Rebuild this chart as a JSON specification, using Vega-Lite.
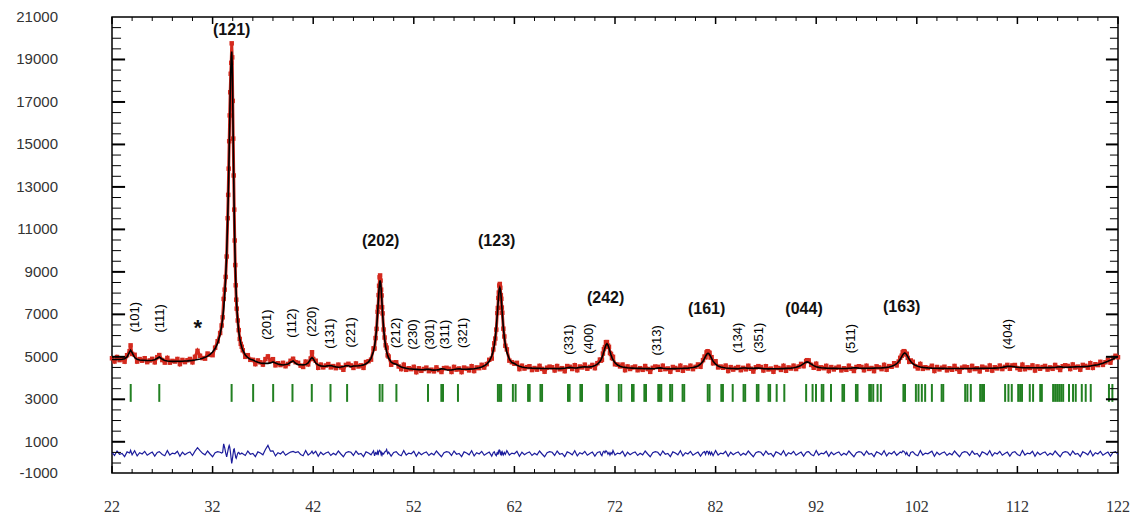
{
"$schema":"https://vega.github.io/schema/vega-lite/v6.json",
"width":1006,"height":456,
"autosize":{"type":"none"},
"padding":{"left":112,"top":17,"right":14,"bottom":47},
"background":"white",
"config":{"view":{"stroke":"#000","strokeWidth":1.5}},
"datasets":{
"profile":[
{"tth":22,"obs":4933,"calc":4873,"diff":505},{"tth":22.25,"obs":4781,"calc":4871,"diff":355},{"tth":22.5,"obs":4991,"calc":4871,"diff":565},{"tth":22.75,"obs":4844,"calc":4874,"diff":415},{"tth":23,"obs":4895,"calc":4885,"diff":455},{"tth":23.25,"obs":4772,"calc":4912,"diff":305},{"tth":23.5,"obs":5076,"calc":4996,"diff":525},{"tth":23.75,"obs":5267,"calc":5237,"diff":475},{"tth":23.85,"obs":5540,"calc":5312,"diff":600},{"tth":24,"obs":5135,"calc":5195,"diff":385},{"tth":24.25,"obs":5096,"calc":4966,"diff":575},{"tth":24.5,"obs":4776,"calc":4886,"diff":335},{"tth":24.75,"obs":4894,"calc":4854,"diff":485},{"tth":25,"obs":4817,"calc":4837,"diff":425},{"tth":25.25,"obs":4934,"calc":4834,"diff":545},{"tth":25.5,"obs":4749,"calc":4829,"diff":365},{"tth":25.75,"obs":4829,"calc":4829,"diff":445},{"tth":26,"obs":4906,"calc":4836,"diff":515},{"tth":26.25,"obs":4741,"calc":4861,"diff":325},{"tth":26.5,"obs":4984,"calc":4934,"diff":495},{"tth":26.7,"obs":5082,"calc":4992,"diff":535},{"tth":27,"obs":4848,"calc":4888,"diff":405},{"tth":27.25,"obs":4728,"calc":4828,"diff":345},{"tth":27.5,"obs":4946,"calc":4806,"diff":585},{"tth":27.75,"obs":4724,"calc":4794,"diff":375},{"tth":28,"obs":4808,"calc":4788,"diff":465},{"tth":28.25,"obs":4778,"calc":4788,"diff":435},{"tth":28.5,"obs":4899,"calc":4789,"diff":555},{"tth":28.75,"obs":4658,"calc":4788,"diff":315},{"tth":29,"obs":4853,"calc":4793,"diff":505},{"tth":29.25,"obs":4751,"calc":4801,"diff":395},{"tth":29.5,"obs":4838,"calc":4808,"diff":475},{"tth":29.75,"obs":4899,"calc":4819,"diff":525},{"tth":30,"obs":4741,"calc":4831,"diff":355},{"tth":30.25,"obs":5000,"calc":4849,"diff":560},{"tth":30.5,"obs":5280,"calc":4870,"diff":720},{"tth":30.75,"obs":5050,"calc":4896,"diff":580},{"tth":31,"obs":4941,"calc":4931,"diff":455},{"tth":31.25,"obs":4915,"calc":4975,"diff":385},{"tth":31.5,"obs":5154,"calc":5034,"diff":565},{"tth":31.75,"obs":5094,"calc":5114,"diff":425},{"tth":32,"obs":5077,"calc":5227,"diff":295},{"tth":32.25,"obs":5431,"calc":5391,"diff":485},{"tth":32.5,"obs":5735,"calc":5645,"diff":535},{"tth":32.75,"obs":6122,"calc":6062,"diff":505},
{"tth":32.9,"obs":6477,"calc":6452,"diff":470},{"tth":33,"obs":6860,"calc":6805,"diff":500},{"tth":33.1,"obs":7724,"calc":7269,"diff":900},{"tth":33.2,"obs":8163,"calc":7888,"diff":720},{"tth":33.3,"obs":8762,"calc":8727,"diff":480},{"tth":33.4,"obs":9723,"calc":9878,"diff":290},{"tth":33.5,"obs":11527,"calc":11452,"diff":520},{"tth":33.55,"obs":12626,"calc":12431,"diff":640},{"tth":33.6,"obs":13860,"calc":13545,"diff":760},{"tth":33.65,"obs":15151,"calc":14766,"diff":830},{"tth":33.7,"obs":16366,"calc":16051,"diff":760},{"tth":33.75,"obs":17456,"calc":17301,"diff":600},{"tth":33.8,"obs":18327,"calc":18372,"diff":400},{"tth":33.85,"obs":18842,"calc":19107,"diff":180},{"tth":33.9,"obs":19760,"calc":19371,"diff":-20},{"tth":33.95,"obs":19100,"calc":18759,"diff":120},{"tth":34,"obs":17050,"calc":17195,"diff":300},{"tth":34.05,"obs":15275,"calc":15240,"diff":480},{"tth":34.1,"obs":13538,"calc":13343,"diff":640},{"tth":34.15,"obs":11931,"calc":11716,"diff":660},{"tth":34.2,"obs":10477,"calc":10402,"diff":520},{"tth":34.25,"obs":9320,"calc":9365,"diff":400},{"tth":34.3,"obs":8369,"calc":8554,"diff":260},{"tth":34.35,"obs":7691,"calc":7916,"diff":220},{"tth":34.4,"obs":7268,"calc":7413,"diff":300},{"tth":34.5,"obs":6711,"calc":6686,"diff":470},{"tth":34.6,"obs":6256,"calc":6201,"diff":500},{"tth":34.7,"obs":5842,"calc":5867,"diff":420},{"tth":34.8,"obs":5611,"calc":5626,"diff":430},{"tth":34.9,"obs":5474,"calc":5449,"diff":470},{"tth":35,"obs":5308,"calc":5313,"diff":440},
{"tth":35.25,"obs":4999,"calc":5089,"diff":355},{"tth":35.5,"obs":5077,"calc":4957,"diff":565},{"tth":35.75,"obs":4859,"calc":4889,"diff":415},{"tth":36,"obs":4858,"calc":4848,"diff":455},{"tth":36.25,"obs":4656,"calc":4796,"diff":305},{"tth":36.5,"obs":4829,"calc":4749,"diff":525},{"tth":36.75,"obs":4743,"calc":4713,"diff":475},{"tth":37,"obs":4633,"calc":4693,"diff":385},{"tth":37.25,"obs":4892,"calc":4692,"diff":640},{"tth":37.5,"obs":5022,"calc":4692,"diff":830},{"tth":37.75,"obs":4815,"calc":4715,"diff":560},{"tth":38,"obs":4889,"calc":4759,"diff":575},{"tth":38.25,"obs":4599,"calc":4709,"diff":335},{"tth":38.5,"obs":4698,"calc":4658,"diff":485},{"tth":38.75,"obs":4612,"calc":4632,"diff":425},{"tth":39,"obs":4717,"calc":4617,"diff":545},{"tth":39.25,"obs":4556,"calc":4636,"diff":365},{"tth":39.5,"obs":4664,"calc":4664,"diff":445},{"tth":39.75,"obs":4813,"calc":4743,"diff":515},{"tth":40,"obs":4909,"calc":4809,"diff":545},{"tth":40.25,"obs":4747,"calc":4697,"diff":495},{"tth":40.5,"obs":4717,"calc":4627,"diff":535},{"tth":40.75,"obs":4585,"calc":4625,"diff":405},{"tth":41,"obs":4523,"calc":4623,"diff":345},{"tth":41.25,"obs":4775,"calc":4635,"diff":585},{"tth":41.5,"obs":4644,"calc":4714,"diff":375},{"tth":41.75,"obs":4922,"calc":4902,"diff":465},{"tth":41.88,"obs":5216,"calc":4966,"diff":560},{"tth":42,"obs":4895,"calc":4905,"diff":435},{"tth":42.25,"obs":4816,"calc":4706,"diff":555},{"tth":42.5,"obs":4485,"calc":4615,"diff":315},{"tth":42.75,"obs":4634,"calc":4574,"diff":505},{"tth":43,"obs":4503,"calc":4553,"diff":395},{"tth":43.25,"obs":4592,"calc":4562,"diff":475},{"tth":43.5,"obs":4660,"calc":4580,"diff":525},{"tth":43.75,"obs":4503,"calc":4593,"diff":355},{"tth":44,"obs":4564,"calc":4554,"diff":455},{"tth":44.25,"obs":4466,"calc":4526,"diff":385},{"tth":44.5,"obs":4632,"calc":4512,"diff":565},{"tth":44.75,"obs":4501,"calc":4521,"diff":425},{"tth":45,"obs":4391,"calc":4541,"diff":295},{"tth":45.25,"obs":4619,"calc":4579,"diff":485},{"tth":45.5,"obs":4671,"calc":4581,"diff":535},{"tth":45.75,"obs":4595,"calc":4535,"diff":505},{"tth":46,"obs":4478,"calc":4568,"diff":355},{"tth":46.25,"obs":4687,"calc":4567,"diff":565},{"tth":46.5,"obs":4546,"calc":4576,"diff":415},{"tth":46.75,"obs":4598,"calc":4588,"diff":455},{"tth":47,"obs":4481,"calc":4621,"diff":305},{"tth":47.25,"obs":4754,"calc":4674,"diff":525},{"tth":47.5,"obs":4794,"calc":4764,"diff":475},{"tth":47.75,"obs":4867,"calc":4927,"diff":385},{"tth":48,"obs":5397,"calc":5267,"diff":575},{"tth":48.1,"obs":5390,"calc":5500,"diff":335},{"tth":48.2,"obs":5883,"calc":5843,"diff":485},{"tth":48.3,"obs":6317,"calc":6337,"diff":425},{"tth":48.4,"obs":7124,"calc":7024,"diff":545},{"tth":48.45,"obs":7350,"calc":7430,"diff":365},{"tth":48.5,"obs":7906,"calc":7846,"diff":505},{"tth":48.55,"obs":8344,"calc":8224,"diff":565},{"tth":48.6,"obs":8743,"calc":8493,"diff":600},{"tth":48.65,"obs":8832,"calc":8592,"diff":560},{"tth":48.7,"obs":8592,"calc":8492,"diff":500},{"tth":48.75,"obs":8161,"calc":8221,"diff":400},{"tth":48.8,"obs":7891,"calc":7841,"diff":480},{"tth":48.85,"obs":7333,"calc":7423,"diff":380},{"tth":48.9,"obs":7046,"calc":7016,"diff":460},{"tth":49,"obs":6286,"calc":6326,"diff":420},{"tth":49.1,"obs":5908,"calc":5828,"diff":520},{"tth":49.2,"obs":5543,"calc":5483,"diff":540},{"tth":49.3,"obs":5431,"calc":5241,"diff":640},{"tth":49.4,"obs":5069,"calc":5069,"diff":445},{"tth":49.5,"obs":5013,"calc":4943,"diff":515},{"tth":49.75,"obs":4628,"calc":4748,"diff":325},{"tth":50,"obs":4731,"calc":4681,"diff":495},{"tth":50.25,"obs":4743,"calc":4653,"diff":535},{"tth":50.5,"obs":4546,"calc":4586,"diff":405},{"tth":50.75,"obs":4420,"calc":4520,"diff":345},{"tth":51,"obs":4628,"calc":4488,"diff":585},{"tth":51.25,"obs":4388,"calc":4458,"diff":375},{"tth":51.5,"obs":4462,"calc":4442,"diff":465},{"tth":51.75,"obs":4419,"calc":4429,"diff":435},{"tth":52,"obs":4528,"calc":4418,"diff":555},{"tth":52.25,"obs":4278,"calc":4408,"diff":315},{"tth":52.5,"obs":4459,"calc":4399,"diff":505},{"tth":52.75,"obs":4341,"calc":4391,"diff":395},{"tth":53,"obs":4428,"calc":4398,"diff":475},{"tth":53.25,"obs":4491,"calc":4411,"diff":525},{"tth":53.5,"obs":4326,"calc":4416,"diff":355},{"tth":53.75,"obs":4395,"calc":4385,"diff":455},{"tth":54,"obs":4316,"calc":4376,"diff":385},{"tth":54.25,"obs":4501,"calc":4381,"diff":565},{"tth":54.5,"obs":4378,"calc":4398,"diff":425},{"tth":54.75,"obs":4286,"calc":4436,"diff":295},{"tth":55,"obs":4467,"calc":4427,"diff":485},{"tth":55.25,"obs":4482,"calc":4392,"diff":535},{"tth":55.5,"obs":4438,"calc":4378,"diff":505},{"tth":55.75,"obs":4289,"calc":4379,"diff":355},{"tth":56,"obs":4525,"calc":4405,"diff":565},{"tth":56.25,"obs":4398,"calc":4428,"diff":415},{"tth":56.5,"obs":4451,"calc":4441,"diff":455},{"tth":56.75,"obs":4282,"calc":4422,"diff":305},{"tth":57,"obs":4494,"calc":4414,"diff":525},{"tth":57.25,"obs":4446,"calc":4416,"diff":475},{"tth":57.5,"obs":4361,"calc":4421,"diff":385},{"tth":57.75,"obs":4558,"calc":4428,"diff":575},{"tth":58,"obs":4332,"calc":4442,"diff":335},{"tth":58.25,"obs":4501,"calc":4461,"diff":485},{"tth":58.5,"obs":4467,"calc":4487,"diff":425},{"tth":58.75,"obs":4623,"calc":4523,"diff":545},{"tth":59,"obs":4495,"calc":4575,"diff":365},{"tth":59.25,"obs":4657,"calc":4657,"diff":445},{"tth":59.5,"obs":4860,"calc":4790,"diff":515},{"tth":59.75,"obs":4918,"calc":5038,"diff":325},{"tth":59.9,"obs":5346,"calc":5296,"diff":495},{"tth":60,"obs":5636,"calc":5546,"diff":535},{"tth":60.1,"obs":5860,"calc":5900,"diff":405},{"tth":60.2,"obs":6281,"calc":6381,"diff":345},{"tth":60.3,"obs":7063,"calc":7003,"diff":505},{"tth":60.35,"obs":7296,"calc":7346,"diff":395},{"tth":60.4,"obs":7778,"calc":7688,"diff":535},{"tth":60.45,"obs":8024,"calc":7984,"diff":485},{"tth":60.5,"obs":8358,"calc":8188,"diff":615},{"tth":60.55,"obs":8431,"calc":8261,"diff":600},{"tth":60.6,"obs":8249,"calc":8189,"diff":505},{"tth":60.65,"obs":7905,"calc":7985,"diff":365},{"tth":60.7,"obs":7731,"calc":7691,"diff":485},{"tth":60.75,"obs":7320,"calc":7350,"diff":415},{"tth":60.8,"obs":7075,"calc":7005,"diff":515},{"tth":60.9,"obs":6325,"calc":6385,"diff":385},{"tth":61,"obs":5957,"calc":5907,"diff":495},{"tth":61.1,"obs":5519,"calc":5559,"diff":405},{"tth":61.25,"obs":5350,"calc":5210,"diff":585},{"tth":61.5,"obs":4820,"calc":4890,"diff":375},{"tth":61.75,"obs":4747,"calc":4727,"diff":465},{"tth":62,"obs":4675,"calc":4685,"diff":435},{"tth":62.25,"obs":4717,"calc":4607,"diff":555},{"tth":62.5,"obs":4424,"calc":4554,"diff":315},{"tth":62.75,"obs":4581,"calc":4521,"diff":505},{"tth":63,"obs":4447,"calc":4497,"diff":395},{"tth":63.25,"obs":4514,"calc":4484,"diff":475},{"tth":63.5,"obs":4555,"calc":4475,"diff":525},{"tth":63.75,"obs":4377,"calc":4467,"diff":355},{"tth":64,"obs":4472,"calc":4462,"diff":455},{"tth":64.25,"obs":4397,"calc":4457,"diff":385},{"tth":64.5,"obs":4574,"calc":4454,"diff":565},{"tth":64.75,"obs":4432,"calc":4452,"diff":425},{"tth":65,"obs":4300,"calc":4450,"diff":295},{"tth":65.25,"obs":4489,"calc":4449,"diff":485},{"tth":65.5,"obs":4539,"calc":4449,"diff":535},{"tth":65.75,"obs":4508,"calc":4448,"diff":505},{"tth":66,"obs":4358,"calc":4448,"diff":355},{"tth":66.25,"obs":4566,"calc":4446,"diff":565},{"tth":66.5,"obs":4415,"calc":4445,"diff":415},{"tth":66.75,"obs":4466,"calc":4456,"diff":455},{"tth":67,"obs":4325,"calc":4465,"diff":305},{"tth":67.25,"obs":4566,"calc":4486,"diff":525},{"tth":67.5,"obs":4532,"calc":4502,"diff":475},{"tth":67.75,"obs":4427,"calc":4487,"diff":385},{"tth":68,"obs":4604,"calc":4474,"diff":575},{"tth":68.25,"obs":4369,"calc":4479,"diff":335},{"tth":68.5,"obs":4545,"calc":4505,"diff":485},{"tth":68.75,"obs":4501,"calc":4521,"diff":425},{"tth":69,"obs":4631,"calc":4531,"diff":545},{"tth":69.25,"obs":4440,"calc":4520,"diff":365},{"tth":69.5,"obs":4527,"calc":4527,"diff":445},{"tth":69.75,"obs":4618,"calc":4548,"diff":515},{"tth":70,"obs":4466,"calc":4586,"diff":325},{"tth":70.25,"obs":4701,"calc":4651,"diff":495},{"tth":70.5,"obs":4870,"calc":4780,"diff":535},{"tth":70.6,"obs":4820,"calc":4860,"diff":405},{"tth":70.7,"obs":4863,"calc":4963,"diff":345},{"tth":70.8,"obs":5154,"calc":5094,"diff":505},{"tth":70.9,"obs":5362,"calc":5252,"diff":555},{"tth":71,"obs":5460,"calc":5420,"diff":485},{"tth":71.1,"obs":5689,"calc":5559,"diff":575},{"tth":71.2,"obs":5695,"calc":5615,"diff":525},{"tth":71.3,"obs":5529,"calc":5559,"diff":415},{"tth":71.4,"obs":5470,"calc":5420,"diff":495},{"tth":71.5,"obs":5182,"calc":5252,"diff":375},{"tth":71.6,"obs":5133,"calc":5093,"diff":485},{"tth":71.7,"obs":4942,"calc":4962,"diff":425},{"tth":71.8,"obs":4999,"calc":4859,"diff":585},{"tth":72,"obs":4648,"calc":4718,"diff":375},{"tth":72.25,"obs":4636,"calc":4616,"diff":465},{"tth":72.5,"obs":4549,"calc":4559,"diff":435},{"tth":72.75,"obs":4635,"calc":4525,"diff":555},{"tth":73,"obs":4372,"calc":4502,"diff":315},{"tth":73.25,"obs":4547,"calc":4487,"diff":505},{"tth":73.5,"obs":4427,"calc":4477,"diff":395},{"tth":73.75,"obs":4499,"calc":4469,"diff":475},{"tth":74,"obs":4543,"calc":4463,"diff":525},{"tth":74.25,"obs":4368,"calc":4458,"diff":355},{"tth":74.5,"obs":4465,"calc":4455,"diff":455},{"tth":74.75,"obs":4387,"calc":4447,"diff":385},
{"tth":75,"obs":4566,"calc":4446,"diff":565},{"tth":75.25,"obs":4425,"calc":4445,"diff":425},{"tth":75.5,"obs":4293,"calc":4443,"diff":295},{"tth":75.75,"obs":4482,"calc":4442,"diff":485},{"tth":76,"obs":4543,"calc":4453,"diff":535},{"tth":76.25,"obs":4528,"calc":4468,"diff":505},{"tth":76.5,"obs":4390,"calc":4480,"diff":355},{"tth":76.75,"obs":4582,"calc":4462,"diff":565},{"tth":77,"obs":4420,"calc":4450,"diff":415},{"tth":77.25,"obs":4451,"calc":4441,"diff":455},{"tth":77.5,"obs":4301,"calc":4441,"diff":305},{"tth":77.75,"obs":4522,"calc":4442,"diff":525},{"tth":78,"obs":4474,"calc":4444,"diff":475},{"tth":78.25,"obs":4387,"calc":4447,"diff":385},{"tth":78.5,"obs":4581,"calc":4451,"diff":575},{"tth":78.75,"obs":4344,"calc":4454,"diff":335},{"tth":79,"obs":4500,"calc":4460,"diff":485},{"tth":79.25,"obs":4449,"calc":4469,"diff":425},{"tth":79.5,"obs":4582,"calc":4482,"diff":545},{"tth":79.75,"obs":4420,"calc":4500,"diff":365},{"tth":80,"obs":4527,"calc":4527,"diff":445},{"tth":80.25,"obs":4640,"calc":4570,"diff":515},{"tth":80.5,"obs":4531,"calc":4651,"diff":325},{"tth":80.75,"obs":4845,"calc":4795,"diff":495},{"tth":80.9,"obs":5013,"calc":4923,"diff":535},{"tth":81,"obs":4980,"calc":5020,"diff":405},{"tth":81.1,"obs":5208,"calc":5108,"diff":545},{"tth":81.2,"obs":5263,"calc":5163,"diff":545},{"tth":81.25,"obs":5230,"calc":5170,"diff":505},{"tth":81.3,"obs":5143,"calc":5163,"diff":425},{"tth":81.4,"obs":5188,"calc":5108,"diff":525},{"tth":81.5,"obs":4970,"calc":5020,"diff":395},{"tth":81.6,"obs":4983,"calc":4923,"diff":505},{"tth":81.75,"obs":4695,"calc":4795,"diff":345},{"tth":82,"obs":4791,"calc":4651,"diff":585},{"tth":82.25,"obs":4500,"calc":4570,"diff":375},{"tth":82.5,"obs":4543,"calc":4523,"diff":465},{"tth":82.75,"obs":4485,"calc":4495,"diff":435},{"tth":83,"obs":4587,"calc":4477,"diff":555},{"tth":83.25,"obs":4334,"calc":4464,"diff":315},{"tth":83.5,"obs":4515,"calc":4455,"diff":505},{"tth":83.75,"obs":4399,"calc":4449,"diff":395},{"tth":84,"obs":4474,"calc":4444,"diff":475},{"tth":84.25,"obs":4520,"calc":4440,"diff":525},{"tth":84.5,"obs":4371,"calc":4461,"diff":355},{"tth":84.75,"obs":4482,"calc":4472,"diff":455},{"tth":85,"obs":4411,"calc":4471,"diff":385},{"tth":85.25,"obs":4578,"calc":4458,"diff":565},{"tth":85.5,"obs":4439,"calc":4459,"diff":425},{"tth":85.75,"obs":4308,"calc":4458,"diff":295},{"tth":86,"obs":4507,"calc":4467,"diff":485},{"tth":86.25,"obs":4561,"calc":4471,"diff":535},{"tth":86.5,"obs":4519,"calc":4459,"diff":505},{"tth":86.75,"obs":4356,"calc":4446,"diff":355},{"tth":87,"obs":4558,"calc":4438,"diff":565},{"tth":87.25,"obs":4404,"calc":4434,"diff":415},{"tth":87.5,"obs":4446,"calc":4436,"diff":455},{"tth":87.75,"obs":4298,"calc":4438,"diff":305},{"tth":88,"obs":4519,"calc":4439,"diff":525},{"tth":88.25,"obs":4471,"calc":4441,"diff":475},{"tth":88.5,"obs":4384,"calc":4444,"diff":385},{"tth":88.75,"obs":4576,"calc":4446,"diff":575},{"tth":89,"obs":4344,"calc":4454,"diff":335},{"tth":89.25,"obs":4500,"calc":4460,"diff":485},{"tth":89.5,"obs":4450,"calc":4470,"diff":425},{"tth":89.75,"obs":4583,"calc":4483,"diff":545},{"tth":90,"obs":4426,"calc":4506,"diff":365},{"tth":90.25,"obs":4541,"calc":4541,"diff":445},{"tth":90.5,"obs":4666,"calc":4596,"diff":515},{"tth":90.75,"obs":4557,"calc":4677,"diff":325},{"tth":91,"obs":4802,"calc":4752,"diff":495},{"tth":91.1,"obs":4841,"calc":4761,"diff":525},{"tth":91.25,"obs":4832,"calc":4742,"diff":535},{"tth":91.5,"obs":4620,"calc":4660,"diff":405},{"tth":91.75,"obs":4484,"calc":4584,"diff":345},{"tth":92,"obs":4675,"calc":4535,"diff":585},{"tth":92.25,"obs":4434,"calc":4504,"diff":375},{"tth":92.5,"obs":4505,"calc":4485,"diff":465},{"tth":92.75,"obs":4464,"calc":4474,"diff":435},{"tth":93,"obs":4576,"calc":4466,"diff":555},{"tth":93.25,"obs":4331,"calc":4461,"diff":315},{"tth":93.5,"obs":4517,"calc":4457,"diff":505},{"tth":93.75,"obs":4405,"calc":4455,"diff":395},{"tth":94,"obs":4484,"calc":4454,"diff":475},{"tth":94.25,"obs":4533,"calc":4453,"diff":525},{"tth":94.5,"obs":4362,"calc":4452,"diff":355},{"tth":94.75,"obs":4461,"calc":4451,"diff":455},{"tth":95,"obs":4388,"calc":4448,"diff":385},{"tth":95.25,"obs":4580,"calc":4460,"diff":565},{"tth":95.5,"obs":4446,"calc":4466,"diff":425},{"tth":95.75,"obs":4333,"calc":4483,"diff":295},{"tth":96,"obs":4520,"calc":4480,"diff":485},{"tth":96.25,"obs":4557,"calc":4467,"diff":535},{"tth":96.5,"obs":4522,"calc":4462,"diff":505},{"tth":96.75,"obs":4368,"calc":4458,"diff":355},{"tth":97,"obs":4579,"calc":4459,"diff":565},{"tth":97.25,"obs":4431,"calc":4461,"diff":415},{"tth":97.5,"obs":4474,"calc":4464,"diff":455},{"tth":97.75,"obs":4327,"calc":4467,"diff":305},{"tth":98,"obs":4551,"calc":4471,"diff":525},{"tth":98.25,"obs":4503,"calc":4473,"diff":475},{"tth":98.5,"obs":4420,"calc":4480,"diff":385},{"tth":98.75,"obs":4620,"calc":4490,"diff":575},{"tth":99,"obs":4393,"calc":4503,"diff":335},{"tth":99.25,"obs":4563,"calc":4523,"diff":485},{"tth":99.5,"obs":4532,"calc":4552,"diff":425},{"tth":99.75,"obs":4699,"calc":4599,"diff":545},{"tth":100,"obs":4597,"calc":4677,"diff":365},{"tth":100.2,"obs":4778,"calc":4778,"diff":445},{"tth":100.35,"obs":4953,"calc":4883,"diff":515},{"tth":100.5,"obs":5050,"calc":5010,"diff":485},{"tth":100.6,"obs":5214,"calc":5094,"diff":565},{"tth":100.7,"obs":5266,"calc":5156,"diff":555},{"tth":100.8,"obs":5240,"calc":5180,"diff":505},{"tth":100.9,"obs":5116,"calc":5156,"diff":405},{"tth":101,"obs":5144,"calc":5094,"diff":495},{"tth":101.1,"obs":4950,"calc":5010,"diff":385},{"tth":101.25,"obs":4763,"calc":4883,"diff":325},{"tth":101.4,"obs":4828,"calc":4778,"diff":495},{"tth":101.6,"obs":4767,"calc":4677,"diff":535},{"tth":101.85,"obs":4559,"calc":4599,"diff":405},{"tth":102.1,"obs":4452,"calc":4552,"diff":345},{"tth":102.35,"obs":4663,"calc":4523,"diff":585},{"tth":102.6,"obs":4433,"calc":4503,"diff":375},{"tth":102.85,"obs":4510,"calc":4490,"diff":465},{"tth":103.1,"obs":4470,"calc":4480,"diff":435},{"tth":103.5,"obs":4579,"calc":4469,"diff":555},{"tth":103.75,"obs":4335,"calc":4465,"diff":315},{"tth":104,"obs":4521,"calc":4461,"diff":505},{"tth":104.25,"obs":4408,"calc":4458,"diff":395},{"tth":104.5,"obs":4486,"calc":4456,"diff":475},{"tth":104.75,"obs":4534,"calc":4454,"diff":525},{"tth":105,"obs":4362,"calc":4452,"diff":355},{"tth":105.25,"obs":4461,"calc":4451,"diff":455},{"tth":105.5,"obs":4391,"calc":4451,"diff":385},{"tth":105.75,"obs":4570,"calc":4450,"diff":565},{"tth":106,"obs":4429,"calc":4449,"diff":425},{"tth":106.25,"obs":4299,"calc":4449,"diff":295},{"tth":106.5,"obs":4489,"calc":4449,"diff":485},{"tth":106.75,"obs":4539,"calc":4449,"diff":535},{"tth":107,"obs":4509,"calc":4449,"diff":505},{"tth":107.25,"obs":4359,"calc":4449,"diff":355},{"tth":107.5,"obs":4572,"calc":4452,"diff":565},{"tth":107.75,"obs":4424,"calc":4454,"diff":415},{"tth":108,"obs":4464,"calc":4454,"diff":455},{"tth":108.25,"obs":4315,"calc":4455,"diff":305},{"tth":108.5,"obs":4536,"calc":4456,"diff":525},{"tth":108.75,"obs":4489,"calc":4459,"diff":475},{"tth":109,"obs":4399,"calc":4459,"diff":385},{"tth":109.25,"obs":4589,"calc":4459,"diff":575},{"tth":109.5,"obs":4352,"calc":4462,"diff":335},{"tth":109.75,"obs":4508,"calc":4468,"diff":485},{"tth":110,"obs":4455,"calc":4475,"diff":425},{"tth":110.25,"obs":4587,"calc":4487,"diff":545},{"tth":110.5,"obs":4424,"calc":4504,"diff":365},{"tth":110.75,"obs":4527,"calc":4527,"diff":445},{"tth":111,"obs":4619,"calc":4549,"diff":515},{"tth":111.25,"obs":4439,"calc":4559,"diff":325},{"tth":111.5,"obs":4595,"calc":4545,"diff":495},{"tth":111.75,"obs":4615,"calc":4525,"diff":535},{"tth":112,"obs":4468,"calc":4508,"diff":405},{"tth":112.25,"obs":4398,"calc":4498,"diff":345},{"tth":112.5,"obs":4631,"calc":4491,"diff":585},{"tth":112.75,"obs":4417,"calc":4487,"diff":375},{"tth":113,"obs":4505,"calc":4485,"diff":465},{"tth":113.25,"obs":4475,"calc":4485,"diff":435},{"tth":113.5,"obs":4595,"calc":4485,"diff":555},{"tth":113.75,"obs":4355,"calc":4485,"diff":315},{"tth":114,"obs":4546,"calc":4486,"diff":505},{"tth":114.25,"obs":4437,"calc":4487,"diff":395},{"tth":114.5,"obs":4519,"calc":4489,"diff":475},{"tth":114.75,"obs":4571,"calc":4491,"diff":525},{"tth":115,"obs":4400,"calc":4490,"diff":355},{"tth":115.25,"obs":4502,"calc":4492,"diff":455},{"tth":115.5,"obs":4435,"calc":4495,"diff":385},{"tth":115.75,"obs":4617,"calc":4497,"diff":565},{"tth":116,"obs":4500,"calc":4520,"diff":425},{"tth":116.25,"obs":4380,"calc":4530,"diff":295},{"tth":116.5,"obs":4555,"calc":4515,"diff":485},{"tth":116.75,"obs":4602,"calc":4512,"diff":535},{"tth":117,"obs":4570,"calc":4510,"diff":505},{"tth":117.25,"obs":4425,"calc":4515,"diff":355},{"tth":117.5,"obs":4640,"calc":4520,"diff":565},{"tth":117.75,"obs":4495,"calc":4525,"diff":415},{"tth":118,"obs":4540,"calc":4530,"diff":455},{"tth":118.25,"obs":4395,"calc":4535,"diff":305},{"tth":118.5,"obs":4620,"calc":4540,"diff":525},{"tth":118.75,"obs":4575,"calc":4545,"diff":475},{"tth":119,"obs":4490,"calc":4550,"diff":385},{"tth":119.25,"obs":4700,"calc":4570,"diff":575},{"tth":119.5,"obs":4480,"calc":4590,"diff":335},{"tth":119.75,"obs":4650,"calc":4610,"diff":485},{"tth":120,"obs":4610,"calc":4630,"diff":425},{"tth":120.25,"obs":4765,"calc":4665,"diff":545},{"tth":120.5,"obs":4620,"calc":4700,"diff":365},{"tth":120.75,"obs":4745,"calc":4745,"diff":445},{"tth":121,"obs":4860,"calc":4790,"diff":515},{"tth":121.25,"obs":4725,"calc":4845,"diff":325},{"tth":121.5,"obs":4950,"calc":4900,"diff":495},{"tth":121.75,"obs":5050,"calc":4960,"diff":535},{"tth":122,"obs":4980,"calc":5020,"diff":405}
],
"bragg":[
{"tth":23.86},{"tth":26.7},{"tth":33.89},{"tth":36.03},{"tth":38.02},{"tth":39.94},{"tth":41.86},{"tth":43.72},{"tth":45.37},{"tth":48.61},{"tth":48.88},{"tth":50.27},{"tth":53.41},{"tth":54.74},{"tth":54.9},{"tth":56.39},{"tth":60.36},
{"tth":60.52},{"tth":60.68},{"tth":61.85},{"tth":62.12},{"tth":63.36},{"tth":63.52},{"tth":64.59},{"tth":64.75},{"tth":67.33},{"tth":67.49},{"tth":68.56},{"tth":68.72},{"tth":71.15},{"tth":71.31},{"tth":72.38},{"tth":72.62},{"tth":73.69},{"tth":73.85},{"tth":74.92},{"tth":75.08},{"tth":76.3},{"tth":76.45},{"tth":76.6},{"tth":77.48},{"tth":77.68},{"tth":78.72},{"tth":78.88},
{"tth":81.22},{"tth":81.4},{"tth":82.57},{"tth":82.73},{"tth":83.7},{"tth":84.78},{"tth":84.94},{"tth":86.1},{"tth":86.26},{"tth":87.26},{"tth":87.42},{"tth":88.07},{"tth":88.83},
{"tth":91.0},{"tth":91.64},{"tth":91.98},{"tth":92.55},{"tth":92.71},{"tth":93.47},{"tth":94.61},{"tth":94.77},{"tth":95.95},{"tth":96.11},{"tth":97.27},{"tth":97.44},{"tth":97.67},{"tth":98.1},{"tth":98.43},
{"tth":100.67},{"tth":100.83},{"tth":101.91},{"tth":102.17},{"tth":102.5},{"tth":102.83},{"tth":103.5},{"tth":104.47},{"tth":104.63},{"tth":106.81},{"tth":107.03},{"tth":107.37},{"tth":108.3},{"tth":108.49},{"tth":108.68},{"tth":110.78},{"tth":111.11},{"tth":111.44},{"tth":112.08},{"tth":112.27},{"tth":112.46},{"tth":113.23},{"tth":113.56},{"tth":114.27},{"tth":114.43},{"tth":115.55},{"tth":115.75},{"tth":115.95},{"tth":116.15},{"tth":116.35},{"tth":116.55},{"tth":117.13},{"tth":117.53},{"tth":117.8},{"tth":118.4},{"tth":118.79},{"tth":119.29},{"tth":121.1},{"tth":121.44}
],
"hkl":[
{"tth":33.9,"y":20390,"label":"(121)"},{"tth":48.71,"y":10445,"label":"(202)"},{"tth":60.24,"y":10445,"label":"(123)"},{"tth":71.07,"y":7760,"label":"(242)"},{"tth":81.11,"y":7270,"label":"(161)"},{"tth":90.79,"y":7270,"label":"(044)"},{"tth":100.5,"y":7345,"label":"(163)"}
],
"hklv":[
{"tth":24.3,"y":6870,"label":"(101)"},{"tth":26.75,"y":6810,"label":"(111)"},{"tth":37.36,"y":6520,"label":"(201)"},{"tth":39.92,"y":6585,"label":"(112)"},{"tth":41.86,"y":6655,"label":"(220)"},{"tth":43.65,"y":6090,"label":"(131)"},{"tth":45.72,"y":6150,"label":"(221)"},{"tth":50.27,"y":6130,"label":"(212)"},{"tth":51.92,"y":6060,"label":"(230)"},{"tth":53.58,"y":6060,"label":"(301)"},{"tth":55.07,"y":6060,"label":"(311)"},{"tth":56.89,"y":6130,"label":"(321)"},{"tth":67.4,"y":5815,"label":"(331)"},{"tth":69.4,"y":5855,"label":"(400)"},{"tth":76.15,"y":5775,"label":"(313)"},{"tth":84.25,"y":5895,"label":"(134)"},{"tth":86.35,"y":5895,"label":"(351)"},{"tth":95.45,"y":5855,"label":"(511)"},{"tth":111.1,"y":6070,"label":"(404)"}
],
"star":[{"tth":30.52,"y":6340,"label":"*"}],
"xlabels":[{"v":22,"label":"22"},{"v":32,"label":"32"},{"v":42,"label":"42"},{"v":52,"label":"52"},{"v":62,"label":"62"},{"v":72,"label":"72"},{"v":82,"label":"82"},{"v":92,"label":"92"},{"v":102,"label":"102"},{"v":112,"label":"112"},{"v":122,"label":"122"}],
"ylabels":[{"v":21000,"label":"21000"},{"v":19000,"label":"19000"},{"v":17000,"label":"17000"},{"v":15000,"label":"15000"},{"v":13000,"label":"13000"},{"v":11000,"label":"11000"},{"v":9000,"label":"9000"},{"v":7000,"label":"7000"},{"v":5000,"label":"5000"},{"v":3000,"label":"3000"},{"v":1000,"label":"1000"},{"v":-470,"label":"-1000"}],
"xmajor":[{"v":22},{"v":32},{"v":42},{"v":52},{"v":62},{"v":72},{"v":82},{"v":92},{"v":102},{"v":112},{"v":122}],
"xminor":[{"v":24},{"v":26},{"v":28},{"v":30},{"v":34},{"v":36},{"v":38},{"v":40},{"v":44},{"v":46},{"v":48},{"v":50},{"v":54},{"v":56},{"v":58},{"v":60},{"v":64},{"v":66},{"v":68},{"v":70},{"v":74},{"v":76},{"v":78},{"v":80},{"v":84},{"v":86},{"v":88},{"v":90},{"v":94},{"v":96},{"v":98},{"v":100},{"v":104},{"v":106},{"v":108},{"v":110},{"v":114},{"v":116},{"v":118},{"v":120}],
"ymajor":[{"v":1000},{"v":3000},{"v":5000},{"v":7000},{"v":9000},{"v":11000},{"v":13000},{"v":15000},{"v":17000},{"v":19000}],
"yminor":[{"v":0},{"v":500},{"v":1500},{"v":2000},{"v":2500},{"v":3500},{"v":4000},{"v":4500},{"v":5500},{"v":6000},{"v":6500},{"v":7500},{"v":8000},{"v":8500},{"v":9500},{"v":10000},{"v":10500},{"v":11500},{"v":12000},{"v":12500},{"v":13500},{"v":14000},{"v":14500},{"v":15500},{"v":16000},{"v":16500},{"v":17500},{"v":18000},{"v":18500},{"v":19500},{"v":20000},{"v":20500}]
},
"layer":[
{"data":{"name":"profile"},
 "mark":{"type":"line","color":"#d42a1e","strokeWidth":3},
 "encoding":{
  "x":{"field":"tth","type":"quantitative","scale":{"domain":[22,122],"nice":false,"zero":false},"axis":null},
  "y":{"field":"obs","type":"quantitative","scale":{"domain":[-470,21000],"nice":false,"zero":false},"axis":null}
 }},
{"data":{"name":"profile"},
 "mark":{"type":"point","shape":"square","filled":true,"size":20,"color":"#d42a1e","opacity":1},
 "encoding":{
  "x":{"field":"tth","type":"quantitative","scale":{"domain":[22,122],"nice":false,"zero":false},"axis":null},
  "y":{"field":"obs","type":"quantitative","scale":{"domain":[-470,21000],"nice":false,"zero":false},"axis":null}
 }},
{"data":{"name":"profile"},
 "mark":{"type":"line","color":"#000","strokeWidth":1.6},
 "encoding":{
  "x":{"field":"tth","type":"quantitative","scale":{"domain":[22,122],"nice":false,"zero":false},"axis":null},
  "y":{"field":"calc","type":"quantitative","scale":{"domain":[-470,21000],"nice":false,"zero":false},"axis":null}
 }},
{"data":{"name":"bragg"},
 "mark":{"type":"rule","color":"#228022","strokeWidth":2},
 "encoding":{
  "x":{"field":"tth","type":"quantitative","scale":{"domain":[22,122],"nice":false,"zero":false},"axis":null},
  "y":{"datum":2880,"type":"quantitative","axis":null},
  "y2":{"datum":3720}
 }},
{"data":{"name":"profile"},
 "mark":{"type":"line","color":"#1c1c9c","strokeWidth":1.2},
 "encoding":{
  "x":{"field":"tth","type":"quantitative","scale":{"domain":[22,122],"nice":false,"zero":false},"axis":null},
  "y":{"field":"diff","type":"quantitative","scale":{"domain":[-470,21000],"nice":false,"zero":false},"axis":null}
 }},
{"data":{"name":"xmajor"},
 "mark":{"type":"rule","color":"#000","strokeWidth":1.5},
 "encoding":{"x":{"field":"v","type":"quantitative","axis":null},"y":{"datum":-470,"type":"quantitative","axis":null},"y2":{"datum":-140}}},
{"data":{"name":"xmajor"},
 "mark":{"type":"rule","color":"#000","strokeWidth":1.5},
 "encoding":{"x":{"field":"v","type":"quantitative","axis":null},"y":{"datum":21000,"type":"quantitative","axis":null},"y2":{"datum":20670}}},
{"data":{"name":"xminor"},
 "mark":{"type":"rule","color":"#000","strokeWidth":1},
 "encoding":{"x":{"field":"v","type":"quantitative","axis":null},"y":{"datum":-470,"type":"quantitative","axis":null},"y2":{"datum":-282}}},
{"data":{"name":"xminor"},
 "mark":{"type":"rule","color":"#000","strokeWidth":1},
 "encoding":{"x":{"field":"v","type":"quantitative","axis":null},"y":{"datum":21000,"type":"quantitative","axis":null},"y2":{"datum":20812}}},
{"data":{"name":"ymajor"},
 "mark":{"type":"rule","color":"#000","strokeWidth":2},
 "encoding":{"y":{"field":"v","type":"quantitative","axis":null},"x":{"datum":22,"type":"quantitative","axis":null},"x2":{"datum":23.3}}},
{"data":{"name":"ymajor"},
 "mark":{"type":"rule","color":"#000","strokeWidth":2},
 "encoding":{"y":{"field":"v","type":"quantitative","axis":null},"x":{"datum":122,"type":"quantitative","axis":null},"x2":{"datum":120.8}}},
{"data":{"name":"yminor"},
 "mark":{"type":"rule","color":"#000","strokeWidth":1},
 "encoding":{"y":{"field":"v","type":"quantitative","axis":null},"x":{"datum":22,"type":"quantitative","axis":null},"x2":{"datum":22.9}}},
{"data":{"name":"yminor"},
 "mark":{"type":"rule","color":"#000","strokeWidth":1},
 "encoding":{"y":{"field":"v","type":"quantitative","axis":null},"x":{"datum":122,"type":"quantitative","axis":null},"x2":{"datum":121.2}}},
{"data":{"name":"xlabels"},
 "mark":{"type":"text","font":"Liberation Serif","fontSize":16,"color":"#333","align":"center","baseline":"middle"},
 "encoding":{"x":{"field":"v","type":"quantitative","axis":null},"y":{"datum":-2071,"type":"quantitative","axis":null},"text":{"field":"label"}}},
{"data":{"name":"ylabels"},
 "mark":{"type":"text","font":"Liberation Sans","fontSize":15,"color":"#333","align":"right","baseline":"middle"},
 "encoding":{"y":{"field":"v","type":"quantitative","axis":null},"x":{"datum":16.63,"type":"quantitative","axis":null},"text":{"field":"label"}}},
{"data":{"name":"hkl"},
 "mark":{"type":"text","font":"Liberation Sans","fontSize":16,"fontWeight":"bold","color":"#111","align":"center","baseline":"middle"},
 "encoding":{
  "x":{"field":"tth","type":"quantitative","axis":null},
  "y":{"field":"y","type":"quantitative","axis":null},
  "text":{"field":"label"}
 }},
{"data":{"name":"hklv"},
 "mark":{"type":"text","font":"Liberation Sans","fontSize":13,"color":"#000","align":"center","baseline":"middle","angle":270},
 "encoding":{
  "x":{"field":"tth","type":"quantitative","axis":null},
  "y":{"field":"y","type":"quantitative","axis":null},
  "text":{"field":"label"}
 }},
{"data":{"name":"star"},
 "mark":{"type":"text","font":"Liberation Sans","fontSize":22,"fontWeight":"bold","color":"#111","align":"center","baseline":"middle"},
 "encoding":{
  "x":{"field":"tth","type":"quantitative","axis":null},
  "y":{"field":"y","type":"quantitative","axis":null},
  "text":{"field":"label"}
 }}
]
}
